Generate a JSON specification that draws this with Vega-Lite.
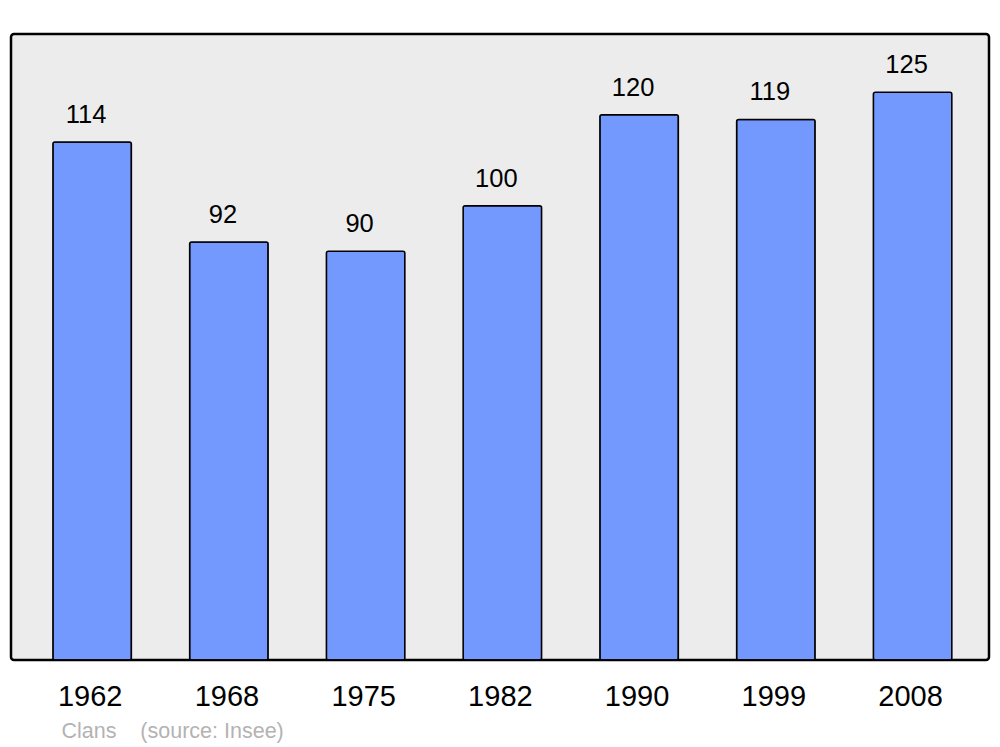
{
  "$schema": "https://vega.github.io/schema/vega-lite/v6.json",
  "width": 978,
  "height": 626,
  "autosize": {"type": "none"},
  "padding": {"left": 11, "top": 34, "right": 11, "bottom": 87},
  "background": "#ffffff",
  "config": {
    "font": "Liberation Sans",
    "view": {"fill": "#ececec", "stroke": "#000000", "strokeWidth": 2.5, "cornerRadius": 3}
  },
  "data": {
    "values": [
      {"year": "1962", "pop": 114},
      {"year": "1968", "pop": 92},
      {"year": "1975", "pop": 90},
      {"year": "1982", "pop": 100},
      {"year": "1990", "pop": 120},
      {"year": "1999", "pop": 119},
      {"year": "2008", "pop": 125}
    ]
  },
  "encoding": {
    "x": {
      "field": "year",
      "type": "ordinal",
      "sort": null,
      "scale": {"paddingInner": 0.426, "paddingOuter": 0.289, "align": 0.53},
      "axis": {
        "title": "Clans\u00a0\u00a0\u00a0\u00a0(source: Insee)",
        "titleFont": "Liberation Sans",
        "titleFontSize": 21.5,
        "titleFontWeight": "normal",
        "titleColor": "#b3b3b3",
        "titleAlign": "left",
        "titleAnchor": "start",
        "titleBaseline": "alphabetic",
        "titleX": 50,
        "titleY": 77,
        "labelAngle": 0,
        "labelFontSize": 29,
        "labelColor": "#000000",
        "labelBaseline": "alphabetic",
        "labelPadding": 45,
        "labelOffset": -2,
        "ticks": false,
        "tickSize": 0,
        "domain": false,
        "grid": false
      }
    },
    "y": {
      "field": "pop",
      "type": "quantitative",
      "scale": {"domain": [0, 137.8], "nice": false, "zero": true},
      "axis": null
    }
  },
  "layer": [
    {
      "mark": {"type": "bar", "fill": "#7399ff", "stroke": "#000000", "strokeWidth": 1.5, "cornerRadius": 2}
    },
    {
      "mark": {"type": "text", "fontSize": 25.5, "color": "#000000", "baseline": "alphabetic", "align": "center", "dy": -19, "dx": -6},
      "encoding": {"text": {"field": "pop", "type": "quantitative"}}
    }
  ]
}
